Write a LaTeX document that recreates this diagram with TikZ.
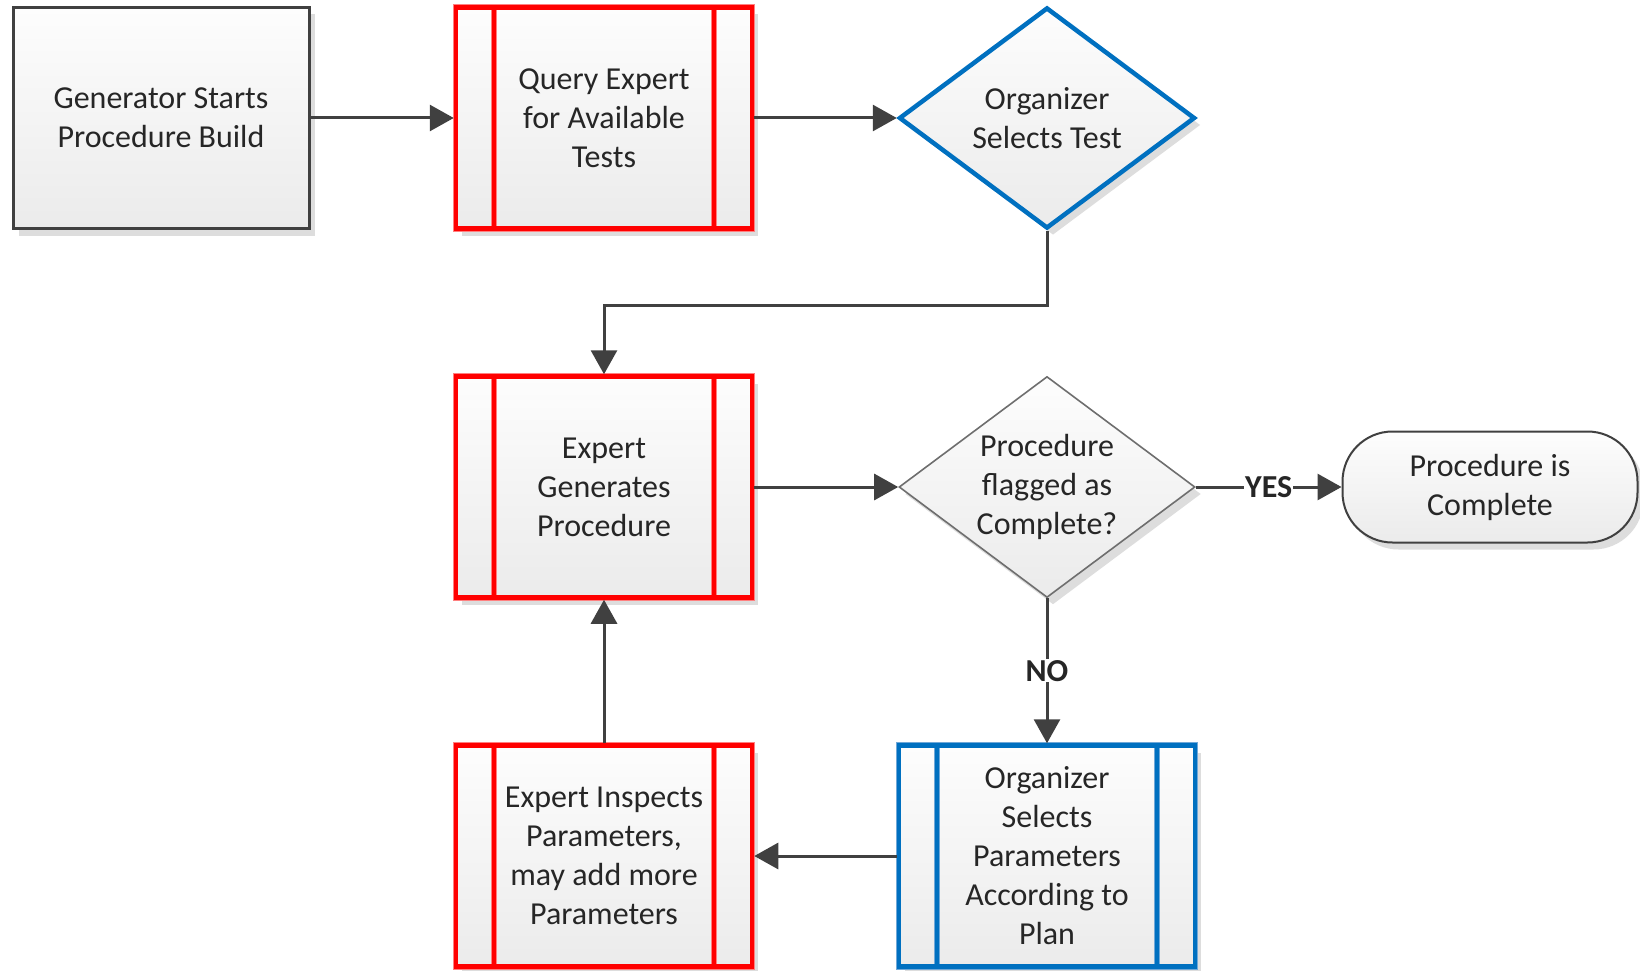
\documentclass[tikz,border=0pt]{standalone}
\usepackage{fontspec}
\setmainfont{Carlito}
\usetikzlibrary{arrows.meta,shapes.geometric,shadows}

\definecolor{ink}{HTML}{404040}
\definecolor{txt}{HTML}{262626}
\definecolor{procred}{HTML}{FF0000}
\definecolor{halored}{HTML}{FF8080}
\definecolor{orgblue}{HTML}{0070C0}
\definecolor{haloblue}{HTML}{70A8D8}
\definecolor{shade}{HTML}{DDDDDD}
\definecolor{fillTop}{HTML}{FDFDFD}
\definecolor{fillBot}{HTML}{EBEBEB}
\definecolor{thingray}{HTML}{6E6E6E}

\tikzset{
  base/.style={font=\fontsize{32}{39}\selectfont, text=txt, align=center,
    inner sep=2pt, top color=fillTop, bottom color=fillBot,
    drop shadow={shadow xshift=6pt, shadow yshift=-7pt, fill=shade, opacity=1}},
  stepbox/.style={base, rectangle, minimum width=296pt, minimum height=221pt},
  plainbox/.style={stepbox, draw=ink, line width=3pt},
  predef/.style 2 args={stepbox, preaction={draw=#2, line width=6.5pt},
    draw=#1, line width=4.5pt,
    path picture={
      \draw[#2, line width=6.5pt]
        ([xshift=38pt]path picture bounding box.north west) --
        ([xshift=38pt]path picture bounding box.south west)
        ([xshift=-38pt]path picture bounding box.north east) --
        ([xshift=-38pt]path picture bounding box.south east);
      \draw[#1, line width=4.5pt]
        ([xshift=38pt]path picture bounding box.north west) --
        ([xshift=38pt]path picture bounding box.south west)
        ([xshift=-38pt]path picture bounding box.north east) --
        ([xshift=-38pt]path picture bounding box.south east);}},
  decision/.style={base, shape=diamond, aspect=1.34, inner sep=0pt,
    minimum width=296pt, minimum height=221pt},
  terminal/.style={base, rectangle, rounded corners=50pt, draw=ink,
    line width=2pt, minimum width=295pt, minimum height=111pt},
  conn/.style={draw=ink, line width=3pt,
    -{Triangle[length=24pt, width=26pt]}},
  lbl/.style={fill=white, inner sep=1pt, text=txt,
    font=\fontsize{32}{39}\selectfont\bfseries}
}

\begin{document}
\begin{tikzpicture}[x=1pt, y=-1pt]
  \useasboundingbox (0,0) rectangle (1640,971);

  % top row
  \node[plainbox] (gen) at (161,118) {Generator Starts\\Procedure Build};
  \node[predef={procred}{halored}] (query) at (604,118)
    {Query Expert\\for Available\\Tests};
  \node[decision, draw=orgblue, line width=4.5pt] (d1) at (1047,118)
    {Organizer\\Selects Test};

  % middle row
  \node[predef={procred}{halored}] (eg) at (604,487)
    {Expert\\Generates\\Procedure};
  \node[decision, draw=thingray, line width=1.6pt] (d2) at (1047,487)
    {Procedure\\flagged as\\Complete?};
  \node[terminal] (term) at (1490,487) {Procedure is\\Complete};

  % bottom row
  \node[predef={orgblue}{haloblue}] (osp) at (1047,856)
    {Organizer\\Selects\\Parameters\\According to\\Plan};
  \node[predef={procred}{halored}] (ei) at (604,856)
    {Expert Inspects\\Parameters,\\may add more\\Parameters};

  % flow
  \draw[conn] (gen) -- (query);
  \draw[conn] (query) -- (d1);
  \draw[conn] (d1.south) -- ++(0,75) -| (eg.north);
  \draw[conn] (eg) -- (d2);
  \draw[conn] (d2) -- node[lbl] {YES} (term);
  \draw[conn] (d2) -- node[lbl] {NO} (osp);
  \draw[conn] (osp) -- (ei);
  \draw[conn] (ei) -- (eg);
\end{tikzpicture}
\end{document}
